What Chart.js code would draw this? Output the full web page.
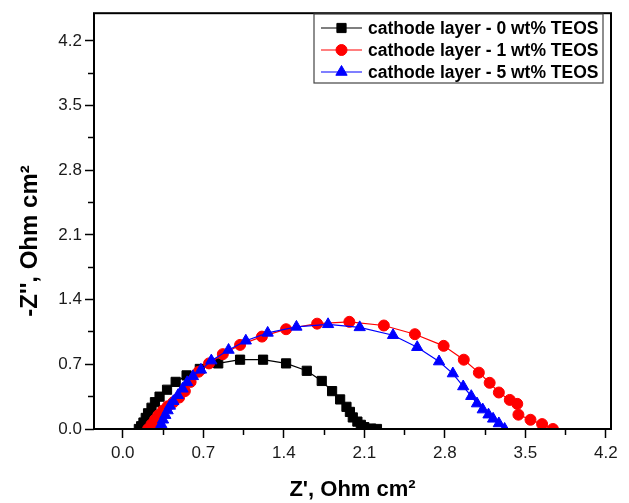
<!DOCTYPE html>
<html><head><meta charset="utf-8">
<script src="https://cdn.jsdelivr.net/npm/chart.js@4.4.0/dist/chart.umd.min.js"></script>
<style>html,body{margin:0;padding:0;background:#fff}#wrap{width:629px;height:503px}</style>
</head><body><div id="wrap"><canvas id="c" width="629" height="503"></canvas></div>
<script>
// ---- data ----
const seriesLabels = ['cathode layer - 0 wt% TEOS', 'cathode layer - 1 wt% TEOS', 'cathode layer - 5 wt% TEOS'];
const re0 = [0.14,0.16,0.18,0.20,0.22,0.25,0.28,0.32,0.385,0.46,0.555,0.67,0.83,1.02,1.22,1.42,1.60,1.73,1.82,1.89,1.945,1.975,2.00,2.04,2.07,2.10,2.16,2.21];
const im0 = [0.0,0.03,0.07,0.12,0.17,0.23,0.29,0.35,0.425,0.51,0.58,0.65,0.71,0.75,0.75,0.71,0.63,0.52,0.41,0.32,0.24,0.185,0.125,0.08,0.045,0.02,0.005,0.0];
const re1 = [0.22,0.25,0.28,0.31,0.35,0.39,0.44,0.49,0.54,0.59,0.66,0.75,0.87,1.02,1.21,1.42,1.69,1.97,2.27,2.54,2.79,2.965,3.096,3.19,3.27,3.365,3.43,3.44,3.545,3.646,3.74];
const im1 = [0.0,0.05,0.10,0.15,0.20,0.245,0.29,0.34,0.41,0.51,0.62,0.71,0.81,0.91,1.0,1.08,1.14,1.16,1.12,1.026,0.90,0.75,0.61,0.50,0.395,0.315,0.272,0.155,0.10,0.053,0.0];
const re5 = [0.32,0.335,0.35,0.37,0.39,0.41,0.44,0.48,0.52,0.56,0.61,0.68,0.77,0.92,1.07,1.26,1.51,1.785,2.06,2.35,2.56,2.75,2.87,2.96,3.03,3.08,3.13,3.18,3.22,3.27,3.32];
const im5 = [0.0,0.05,0.10,0.15,0.20,0.25,0.30,0.365,0.435,0.505,0.57,0.64,0.74,0.855,0.955,1.04,1.105,1.133,1.10,1.015,0.885,0.73,0.60,0.46,0.355,0.275,0.21,0.155,0.11,0.06,0.0];
const xMajorTicks = [0.0,0.7,1.4,2.1,2.8,3.5,4.2];
const xMinorTicks = [0.35,1.05,1.75,2.45,3.15,3.85];
const yMajorTicks = [0.0,0.7,1.4,2.1,2.8,3.5,4.2];
const yMinorTicks = [0.35,1.05,1.75,2.45,3.15,3.85];
const xTitle = "Z', Ohm cm\u00B2";
const yTitle = "-Z'', Ohm cm\u00B2";

const FONT = "'Liberation Sans', Arial, Helvetica, sans-serif";
const X_MIN = -0.25, X_MAX = 4.245, Y_MIN = 0, Y_MAX = 4.5;

function pts(xs, ys) { return xs.map((x, i) => ({ x: x, y: ys[i] })); }
function setTicks(vals) { return s => { s.ticks = vals.map(v => ({ value: v })); }; }

const frame = {
  id: 'frame',
  afterDatasetsDraw(chart) {
    const a = chart.chartArea, c = chart.ctx;
    c.save(); c.strokeStyle = '#000'; c.lineWidth = 2;
    c.strokeRect(a.left, a.top, a.right - a.left, a.bottom - a.top);
    c.restore();
  }
};

function drawMarker(c, ds, x, y) {
  if (Chart.helpers && Chart.helpers.drawPoint) {
    c.fillStyle = ds.pointBackgroundColor; c.strokeStyle = ds.borderColor; c.lineWidth = 1;
    Chart.helpers.drawPoint(c, { pointStyle: ds.pointStyle, radius: ds.pointRadius, rotation: 0, borderWidth: 1 }, x, y);
  }
}

const legendBox = {
  id: 'legendBox',
  afterDraw(chart) {
    const c = chart.ctx;
    c.save();
    const bx = 314, by = 14, bw = 289, bh = 69;
    c.fillStyle = '#fff'; c.fillRect(bx, by, bw, bh);
    c.strokeStyle = '#444'; c.lineWidth = 1.2; c.strokeRect(bx, by, bw, bh);
    chart.data.datasets.forEach((ds, i) => {
      const y = by + 14 + i * 22;
      c.strokeStyle = ds.borderColor; c.lineWidth = 1.2;
      c.beginPath(); c.moveTo(bx + 7, y); c.lineTo(bx + 48, y); c.stroke();
      drawMarker(c, ds, bx + 27.5, y);
      c.fillStyle = '#000'; c.font = 'bold 17.5px ' + FONT;
      c.textAlign = 'left'; c.textBaseline = 'middle';
      c.fillText(ds.label, bx + 54, y + 1);
    });
    c.restore();
  }
};

const axisTitles = {
  id: 'axisTitles',
  afterDraw(chart) {
    const c = chart.ctx, a = chart.chartArea;
    c.save();
    c.fillStyle = '#000'; c.textAlign = 'center'; c.textBaseline = 'middle';
    c.font = 'bold 22px ' + FONT;
    c.fillText(xTitle, (a.left + a.right) / 2, 490);
    c.font = 'bold 24px ' + FONT;
    c.translate(30, 241); c.rotate(-Math.PI / 2);
    c.fillText(yTitle, 0, 0);
    c.restore();
  }
};

const tickFont = { family: FONT, size: 17 };
const majorGrid = { drawOnChartArea: false, drawTicks: true, tickLength: 9, tickColor: '#000', tickWidth: 1.5 };
const minorGrid = { drawOnChartArea: false, drawTicks: true, tickLength: 6, tickColor: '#000', tickWidth: 1.5 };

new Chart(document.getElementById('c'), {
  type: 'scatter',
  data: {
    datasets: [
      { label: seriesLabels[0], data: pts(re0, im0), showLine: true, borderColor: '#000000', backgroundColor: '#000000',
        pointBackgroundColor: '#000000', pointStyle: 'rect', pointRadius: 6.5, borderWidth: 1.2, pointBorderWidth: 1, order: 2 },
      { label: seriesLabels[1], data: pts(re1, im1), showLine: true, borderColor: '#ff0000', backgroundColor: '#ff0000',
        pointBackgroundColor: '#ff0000', pointStyle: 'circle', pointRadius: 5.5, borderWidth: 1.2, pointBorderWidth: 1, order: 1 },
      { label: seriesLabels[2], data: pts(re5, im5), showLine: true, borderColor: '#0000ff', backgroundColor: '#0000ff',
        pointBackgroundColor: '#0000ff', pointStyle: 'triangle', pointRadius: 6.5, borderWidth: 1.2, pointBorderWidth: 1, order: 0 }
    ]
  },
  options: {
    responsive: false, animation: false, devicePixelRatio: 1,
    layout: { padding: { top: 9.5, right: 18, left: 0, bottom: 0 } },
    plugins: { legend: { display: false }, tooltip: { enabled: false } },
    elements: { line: { tension: 0 } },
    scales: {
      x: { type: 'linear', position: 'bottom', min: X_MIN, max: X_MAX, weight: 1,
        afterBuildTicks: setTicks(xMajorTicks), afterFit: s => { s.height = 74; },
        ticks: { font: tickFont, color: '#1a1a1a', padding: 5, autoSkip: false, maxRotation: 0, callback: v => Number(v).toFixed(1) },
        grid: majorGrid, border: { display: false } },
      xMinor: { type: 'linear', position: 'bottom', min: X_MIN, max: X_MAX, weight: 0,
        afterBuildTicks: setTicks(xMinorTicks), afterFit: s => { s.height = 0; },
        ticks: { display: false }, grid: minorGrid, border: { display: false } },
      y: { type: 'linear', position: 'left', min: Y_MIN, max: Y_MAX, weight: 1,
        afterBuildTicks: setTicks(yMajorTicks), afterFit: s => { s.width = 94; },
        ticks: { font: tickFont, color: '#1a1a1a', padding: 3, autoSkip: false, callback: v => Number(v).toFixed(1) },
        grid: majorGrid, border: { display: false } },
      yMinor: { type: 'linear', position: 'left', min: Y_MIN, max: Y_MAX, weight: 0,
        afterBuildTicks: setTicks(yMinorTicks), afterFit: s => { s.width = 0; },
        ticks: { display: false }, grid: minorGrid, border: { display: false } }
    }
  },
  plugins: [frame, legendBox, axisTitles]
});
</script>
</body></html>
